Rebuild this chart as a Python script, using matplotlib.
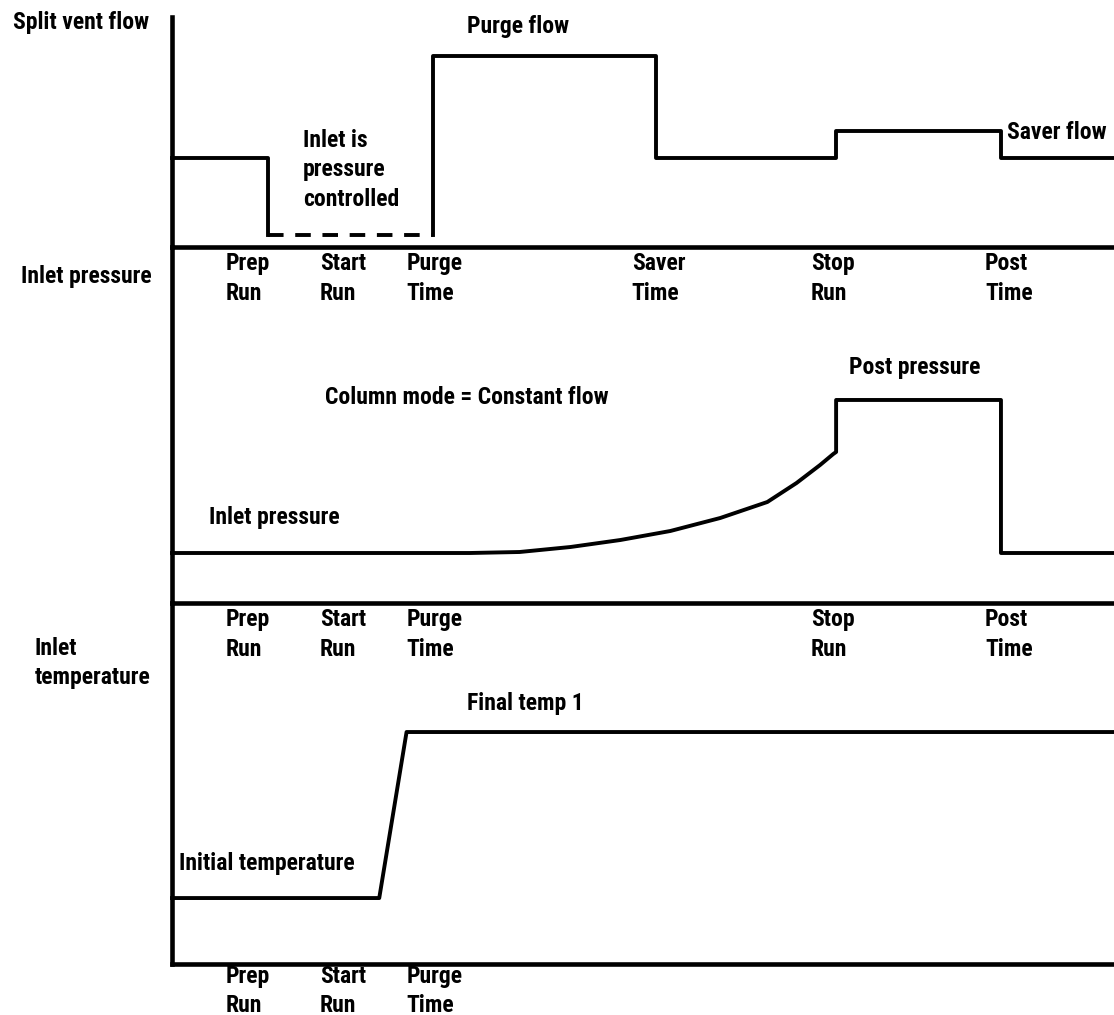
import numpy as np
import matplotlib
matplotlib.use("Agg")
import matplotlib.pyplot as plt
from matplotlib import font_manager

# pick a narrow bold face if one is installed
names = {f.name for f in font_manager.fontManager.ttflist}
FONT = "DejaVu Sans"
for cand in ["Roboto Condensed", "Liberation Sans Narrow", "Open Sans Condensed",
             "Noto Sans Condensed", "Liberation Sans"]:
    if cand in names:
        FONT = cand
        break
plt.rcParams["font.family"] = [FONT, "DejaVu Sans"]
plt.rcParams["font.weight"] = "bold"

# time axis runs 0..100 (arbitrary units)
# split vent flow (top panel)
FLOW_T = [0, 10.2, 10.2]
FLOW_V = [89, 89, 12]
FLOW_DASH_T = [10.2, 27.7]
FLOW_DASH_V = [12, 12]
FLOW2_T = [27.7, 27.7, 51.4, 51.4, 70.5, 70.5, 88.0, 88.0, 100]
FLOW2_V = [12, 191, 191, 89, 89, 116, 116, 89, 89]

# inlet pressure (middle panel)
PRES_T = [0, 26.3, 31.6, 36.9, 42.3, 47.6, 52.9, 58.2, 63.2, 66.3, 68.8, 70.2, 70.5,
          70.5, 88.0, 88.0, 100]
PRES_V = [50, 50, 50, 51, 56, 63, 72, 85, 101, 120, 138, 149, 151,
          203, 203, 50, 50]

# inlet temperature (bottom panel)
TEMP_T = [0, 22.0, 24.9, 100]
TEMP_V = [66, 66, 232, 232]

# event labels under each panel (left edge of text)
EV_TOP = ["Prep\nRun", "Start\nRun", "Purge\nTime", "Saver\nTime", "Stop\nRun", "Post\nTime"]
EV_TOP_X = [5.7, 15.7, 24.9, 48.8, 67.8, 86.3]
EV_MID = ["Prep\nRun", "Start\nRun", "Purge\nTime", "Stop\nRun", "Post\nTime"]
EV_MID_X = [5.7, 15.7, 24.9, 67.8, 86.3]
EV_BOT = ["Prep\nRun", "Start\nRun", "Purge\nTime"]
EV_BOT_X = [5.7, 15.7, 24.9]

FS = 17 if FONT != "Liberation Sans" else 14
if FONT == "DejaVu Sans":
    FS = 12.5
LW = 2.8

fig = plt.figure(figsize=(11.14, 10.15), dpi=100)
left = 172 / 1114
w = 1 - left
ax1 = fig.add_axes([left, 0.7567, w, 0.2266])
ax2 = fig.add_axes([left, 0.4059, w, 0.3508])
ax3 = fig.add_axes([left, 0.0502, w, 0.3557])

for ax, top in [(ax1, 230), (ax2, 356), (ax3, 361)]:
    ax.set_xlim(0, 100)
    ax.set_ylim(0, top)
    ax.set_xticks([])
    ax.set_yticks([])
    ax.patch.set_visible(False)
    for s in ["top", "right"]:
        ax.spines[s].set_visible(False)
    for s in ["left", "bottom"]:
        ax.spines[s].set_linewidth(3.3)
        ax.spines[s].set_capstyle("projecting")

ax1.plot(FLOW_T, FLOW_V, color="black", lw=LW, clip_on=False)
ax1.plot(FLOW_DASH_T, FLOW_DASH_V, color="black", lw=LW, dashes=(4, 3), clip_on=False)
ax1.plot(FLOW2_T, FLOW2_V, color="black", lw=LW, clip_on=False)
ax2.plot(PRES_T, PRES_V, color="black", lw=LW, clip_on=False, solid_joinstyle="round")
ax3.plot(TEMP_T, TEMP_V, color="black", lw=LW, clip_on=False)

# bottom row sits close to the figure edge, so it is packed a little tighter
for ax, labs, xs, dy, ls in [(ax1, EV_TOP, EV_TOP_X, -3.5, 1.38),
                             (ax2, EV_MID, EV_MID_X, -3.5, 1.38),
                             (ax3, EV_BOT, EV_BOT_X, -0.5, 1.32)]:
    for lab, x in zip(labs, xs):
        ax.annotate(lab, xy=(x, 0), xycoords=("data", "axes fraction"),
                    xytext=(0, dy), textcoords="offset points",
                    ha="left", va="top", fontsize=FS, linespacing=ls,
                    annotation_clip=False)

# annotations inside panels
ax1.text(31.3, 220, "Purge flow", fontsize=FS, va="center")
ax1.text(13.9, 77, "Inlet is\npressure\ncontrolled", fontsize=FS, va="center", linespacing=1.38)
ax1.text(88.6, 114, "Saver flow", fontsize=FS, va="center")
ax2.text(16.2, 205, "Column mode = Constant flow", fontsize=FS, va="center")
ax2.text(3.9, 85, "Inlet pressure", fontsize=FS, va="center")
ax2.text(71.9, 235, "Post pressure", fontsize=FS, va="center")
ax3.text(31.3, 261, "Final temp 1", fontsize=FS, va="center")
ax3.text(0.7, 101, "Initial temperature", fontsize=FS, va="center")

# panel titles on the left
fig.text(149 / 1114, 1 - 23 / 1015, "Split vent flow", fontsize=FS, ha="right", va="center")
fig.text(152 / 1114, 1 - 276 / 1015, "Inlet pressure", fontsize=FS, ha="right", va="center")
fig.text(35 / 1114, 1 - 663 / 1015, "Inlet\ntemperature", fontsize=FS, ha="left", va="center",
         linespacing=1.38)

fig.savefig("out.png", dpi=100)
